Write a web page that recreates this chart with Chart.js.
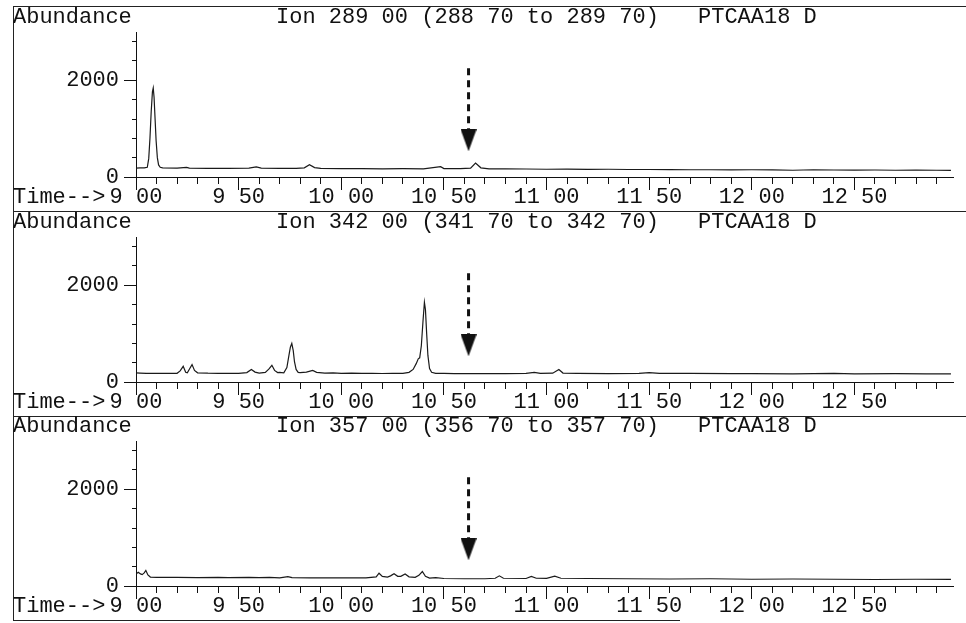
<!DOCTYPE html>
<html>
<head>
<meta charset="utf-8">
<script src="https://cdn.jsdelivr.net/npm/chart.js@4.4.1/dist/chart.umd.min.js"></script>
<style>
  body { margin: 0; background: #fff; width: 966px; height: 623px; overflow: hidden; position: relative; }
  canvas { position: absolute; left: 0; }
  .linea { position: absolute; background: #222; }
</style>
</head>
<body>
<div class="linea" style="left:13px;top:6px;width:953px;height:1px"></div>
<div class="linea" style="left:13px;top:211px;width:953px;height:1px"></div>
<div class="linea" style="left:13px;top:416px;width:953px;height:1px"></div>
<div class="linea" style="left:13px;top:620px;width:667px;height:1px"></div>
<div class="linea" style="left:13px;top:6px;width:1px;height:615px"></div>
<canvas id="panel1" width="966" height="207" style="top:0px"></canvas>
<canvas id="panel2" width="966" height="207" style="top:205px"></canvas>
<canvas id="panel3" width="966" height="207" style="top:409px"></canvas>
<script>
const FUENTE = "'Liberation Mono', 'Courier New', monospace";

//Cabeceras de cada cromatograma
const iones = [
  "Ion 289 00 (288 70 to 289 70)",
  "Ion 342 00 (341 70 to 342 70)",
  "Ion 357 00 (356 70 to 357 70)",
];
const archivo = "PTCAA18 D";

//Etiquetas de los ejes
const posEtiquetasX = [9.0, 9.5, 10.0, 10.5, 11.0, 11.5, 12.0, 12.5];
const etiquetasX = ["9 00", "9 50", "10 00", "10 50", "11 00", "11 50", "12 00", "12 50"];
const valoresY = [0, 2000];

//Flecha punteada (tiempo y abundancias de inicio / punta)
const flechaT = 10.62;
const flechaY = [2250, 760];

//Ion 289
const tiempo289 = [9.00, 9.02, 9.04, 9.055, 9.062, 9.068, 9.074, 9.080, 9.084, 9.088, 9.093, 9.098, 9.104, 9.110, 9.118, 9.13,
  9.20, 9.246, 9.26, 9.35, 9.45, 9.55, 9.586, 9.61, 9.70, 9.78, 9.82, 9.845, 9.87, 9.90, 10.00, 10.10, 10.20, 10.30, 10.40,
  10.484, 10.50, 10.58, 10.63, 10.654, 10.68, 10.72, 10.80, 10.90, 11.00, 11.10, 11.20, 11.30, 11.40, 11.50, 11.60, 11.70,
  11.80, 11.90, 12.00, 12.10, 12.20, 12.30, 12.40, 12.50, 12.60, 12.70, 12.80, 12.90, 12.97];
const abund289 = [185, 188, 190, 200, 380, 800, 1350, 1760, 1840, 1650, 1200, 750, 400, 250, 200, 190,
  185, 200, 185, 180, 180, 185, 210, 185, 180, 178, 190, 255, 195, 178, 175, 172, 170, 172, 170,
  215, 175, 172, 185, 290, 190, 170, 168, 165, 160, 163, 158, 160, 155, 155, 152, 150,
  150, 148, 150, 147, 140, 150, 145, 143, 145, 140, 142, 140, 138];

//Ion 342
const tiempo342 = [9.00, 9.02, 9.05, 9.10, 9.15, 9.20, 9.215, 9.23, 9.242, 9.25, 9.262, 9.273, 9.285, 9.30, 9.35, 9.40, 9.45,
  9.50, 9.54, 9.562, 9.58, 9.60, 9.63, 9.648, 9.662, 9.675, 9.69, 9.70, 9.72, 9.735, 9.745, 9.752, 9.759, 9.766, 9.772,
  9.78, 9.79, 9.80, 9.83, 9.861, 9.88, 9.92, 9.96, 10.00, 10.05, 10.10, 10.15, 10.20, 10.25, 10.30, 10.33, 10.35, 10.365,
  10.375, 10.382, 10.39, 10.398, 10.405, 10.41, 10.416, 10.422, 10.43, 10.44, 10.46, 10.50, 10.55, 10.62, 10.70, 10.80,
  10.90, 10.94, 10.97, 11.03, 11.06, 11.08, 11.15, 11.30, 11.45, 11.50, 11.55, 11.70, 11.90, 12.00, 12.20, 12.40, 12.50,
  12.70, 12.85, 12.97];
const abund342 = [190, 185, 180, 178, 178, 180, 230, 325, 200, 190, 280, 360, 240, 190, 182, 180, 178,
  180, 195, 260, 205, 185, 200, 270, 345, 240, 195, 200, 190, 300, 550, 720, 800, 650, 420,
  260, 200, 195, 205, 240, 200, 185, 190, 180, 182, 178, 180, 176, 178, 180, 200, 260, 380,
  480, 500, 750, 1250, 1650, 1500, 1000, 550, 280, 200, 180, 178, 175, 172, 175, 175,
  178, 200, 180, 182, 260, 185, 178, 175, 180, 195, 178, 178, 172, 175, 170, 178, 170,
  175, 168, 170];

//Ion 357
const tiempo357 = [9.00, 9.011, 9.022, 9.03, 9.04, 9.048, 9.058, 9.07, 9.10, 9.20, 9.30, 9.40, 9.45, 9.55, 9.60, 9.65,
  9.70, 9.74, 9.76, 9.85, 9.95, 10.05, 10.12, 10.17, 10.184, 10.20, 10.225, 10.24, 10.257, 10.275, 10.29, 10.311, 10.33,
  10.36, 10.378, 10.395, 10.41, 10.43, 10.46, 10.50, 10.60, 10.70, 10.75, 10.77, 10.79, 10.90, 10.926, 10.95, 11.00,
  11.04, 11.07, 11.20, 11.40, 11.60, 11.80, 12.00, 12.20, 12.40, 12.60, 12.80, 12.97];
const abund357 = [250, 285, 250, 235, 270, 320, 230, 185, 180, 178, 175, 178, 172, 180, 175, 180,
  170, 195, 172, 170, 168, 168, 170, 190, 265, 200, 185, 210, 255, 200, 200, 250, 190,
  180, 220, 300, 200, 165, 175, 155, 150, 150, 160, 210, 160, 155, 200, 160, 158,
  205, 160, 155, 150, 145, 150, 140, 145, 140, 135, 140, 138];

//Es marca principal (cada 0.5 min)?
function esMayor(v) {
  return Math.abs(v * 2 - Math.round(v * 2)) < 1e-6;
}

//Punta de flecha (triangulo alargado hacia abajo)
const punta = document.createElement("canvas");
punta.width = 16;
punta.height = 22;
const pctx = punta.getContext("2d");
pctx.fillStyle = "#111";
pctx.beginPath();
pctx.moveTo(0, 0);
pctx.lineTo(16, 0);
pctx.lineTo(8, 22);
pctx.closePath();
pctx.fill();

//Textos de cabecera y "Time-->"
const textos = {
  id: "textos",
  afterDraw(chart, args, opts) {
    const { ctx, chartArea, scales } = chart;
    ctx.save();
    ctx.fillStyle = "#111";
    ctx.font = "22px " + FUENTE;
    ctx.textAlign = "left";
    ctx.textBaseline = "alphabetic";
    ctx.fillText("Abundance", 13, chartArea.top - 9);
    ctx.fillText(opts.ion, 276, chartArea.top - 9);
    ctx.fillText(archivo, 698, chartArea.top - 9);
    ctx.textBaseline = "middle";
    ctx.fillText("Time-->", 13, scales.x.top + 20);
    ctx.restore();
  },
};

function graficar(id, tiempos, abund, ion) {
  const puntos = tiempos.map((t, i) => ({ x: t, y: abund[i] }));
  const flecha = flechaY.map((y) => ({ x: flechaT, y }));

  return new Chart(document.getElementById(id), {
    type: "line",
    data: {
      datasets: [
        {
          data: flecha,
          borderColor: "#111",
          borderWidth: 3,
          borderDash: [7, 5],
          pointRadius: [0, 10],
          pointStyle: ["circle", punta],
        },
        {
          data: puntos,
          borderColor: "#1a1a1a",
          borderWidth: 1.2,
          pointRadius: 0,
          tension: 0,
        },
      ],
    },
    options: {
      responsive: false,
      animation: false,
      layout: { padding: { left: 0, right: 11, top: 32, bottom: 2 } },
      plugins: {
        legend: { display: false },
        tooltip: { enabled: false },
        textos: { ion },
      },
      scales: {
        x: {
          type: "linear",
          min: 9,
          max: 12.98,
          afterFit: (s) => { s.height = 28; },
          border: { color: "#111", width: 1 },
          grid: {
            drawOnChartArea: false,
            tickLength: 13,
            tickColor: "#111",
            tickBorderDash: (c) => (c.tick && esMayor(c.tick.value) ? [] : [6, 40]),
          },
          ticks: {
            stepSize: 0.1,
            maxTicksLimit: 100,
            autoSkip: false,
            maxRotation: 0,
            minRotation: 0,
            includeBounds: false,
            padding: -4,
            color: "#111",
            font: { family: FUENTE, size: 22, lineHeight: 1 },
            callback: (v) => {
              const i = posEtiquetasX.findIndex((p) => Math.abs(p - v) < 1e-6);
              return i >= 0 ? etiquetasX[i] : "";
            },
          },
        },
        y: {
          min: 0,
          max: 3000,
          afterFit: (s) => { s.width = 136; },
          border: { color: "#111", width: 1 },
          grid: {
            drawOnChartArea: false,
            tickLength: 12,
            tickColor: "#111",
            tickBorderDash: (c) => (c.tick && valoresY.includes(c.tick.value) ? [] : [0, 8, 4, 0]),
          },
          ticks: {
            stepSize: 400,
            includeBounds: false,
            autoSkip: false,
            padding: 5,
            color: "#111",
            font: { family: FUENTE, size: 22, lineHeight: 1 },
            callback: (v) => (valoresY.includes(v) ? String(v) : ""),
          },
        },
      },
    },
    plugins: [textos],
  });
}

graficar("panel1", tiempo289, abund289, iones[0]);
graficar("panel2", tiempo342, abund342, iones[1]);
graficar("panel3", tiempo357, abund357, iones[2]);
</script>
</body>
</html>
